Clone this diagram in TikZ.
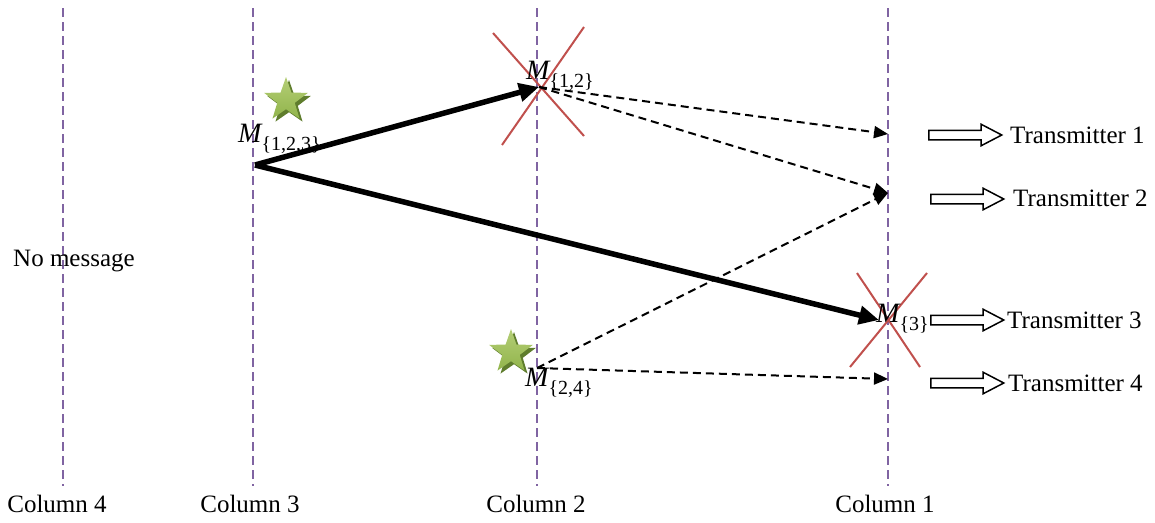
\documentclass[tikz,border=0pt]{standalone}
\usepackage{fontspec}
\setmainfont{Liberation Serif}
\usetikzlibrary{arrows.meta,shapes.geometric,shapes.arrows}
\definecolor{colpurple}{RGB}{128,100,162}
\definecolor{crossred}{RGB}{192,80,77}
\definecolor{stargreen}{RGB}{145,180,75}
\definecolor{starlight}{RGB}{180,206,118}
\definecolor{stardark}{RGB}{95,125,45}
\newcommand{\msg}[1]{{\itshape M}\raisebox{-8pt}{\fontsize{20}{20}\selectfont\{#1\}}}
\begin{document}
\begin{tikzpicture}[x=1pt,y=-1pt,
  col/.style={draw=colpurple, line width=1.6pt, dash pattern=on 9pt off 5pt},
  lbl/.style={font=\fontsize{25}{28}\selectfont, inner sep=0pt},
  ml/.style={font=\fontsize{28}{30}\selectfont, inner sep=0pt},
  thickarrow/.style={line width=5.5pt, -{Triangle[length=20pt,width=18pt]}},
  dasharrow/.style={line width=2pt, dash pattern=on 8pt off 5pt, -{Triangle[length=14pt,width=12pt]}},
  cross/.style={draw=crossred, line width=2pt},
  hollow/.style={single arrow, draw, line width=1.5pt, fill=white, inner xsep=0pt, inner ysep=4pt,
    minimum height=73pt, single arrow head extend=6pt, single arrow tip angle=55, anchor=west},
  starshape/.style={star, star points=5, star point ratio=2.5, minimum size=46pt, inner sep=0pt}
]
\useasboundingbox (0,0) rectangle (1155,522);

% column lines
\coordinate (c4t) at (63,8);   \coordinate (c4b) at (63,486);
\coordinate (c3t) at (253,8);  \coordinate (c3b) at (253,486);
\coordinate (c2t) at (537,8);  \coordinate (c2b) at (537,486);
\coordinate (c1t) at (888,8);  \coordinate (c1b) at (888,486);
\draw[col] (c4t) -- (c4b);
\draw[col] (c3t) -- (c3b);
\draw[col] (c2t) -- (c2b);
\draw[col] (c1t) -- (c1b);

% column labels
\node[lbl, anchor=base] (l4) at (57,512) {Column 4};
\node[lbl, anchor=base] (l3) at (250,512) {Column 3};
\node[lbl, anchor=base] (l2) at (536,512) {Column 2};
\node[lbl, anchor=base] (l1) at (885,512) {Column 1};
\node[lbl, anchor=base west] (nomsg) at (13,266) {No message};

% stars
\node[starshape, fill=stardark] (s1sh) at (289,103) {};
\node[starshape, top color=starlight, bottom color=stargreen, draw=none] (s1) at (286,100) {};
\node[starshape, fill=stardark] (s2sh) at (514,355) {};
\node[starshape, top color=starlight, bottom color=stargreen, draw=none] (s2) at (511,352) {};

% crosses
\coordinate (x1a) at (493,33);  \coordinate (x1b) at (584,136);
\coordinate (x1c) at (584,27);  \coordinate (x1d) at (502,145);
\draw[cross] (x1a) -- (x1b);
\draw[cross] (x1c) -- (x1d);
\coordinate (x2a) at (857,273); \coordinate (x2b) at (920,367);
\coordinate (x2c) at (927,273); \coordinate (x2d) at (850,367);
\draw[cross] (x2a) -- (x2b);
\draw[cross] (x2c) -- (x2d);

% points
\coordinate (A) at (255,165);
\coordinate (B) at (539,87);
\coordinate (C) at (537,368);
\coordinate (D) at (879,320);
\coordinate (T1) at (888,134);
\coordinate (T2) at (888,193);
\coordinate (T4) at (888,379);

% arrows
\draw[thickarrow] (A) -- (B);
\draw[thickarrow] (A) -- (D);
\draw[dasharrow] (B) -- (T1);
\draw[dasharrow] (B) -- (T2);
\draw[dasharrow] (C) -- (T2);
\draw[dasharrow] (C) -- (T4);

% message labels
\node[ml, anchor=base west] (m123) at (238,142) {\msg{1,2,3}};
\node[ml, anchor=base west] (m12) at (526,79) {\msg{1,2}};
\node[ml, anchor=base west] (m24) at (525,386) {\msg{2,4}};
\node[ml, anchor=base west] (m3) at (876,322) {\msg{3}};

% hollow arrows and transmitters
\node[hollow] (h1) at (928,135) {};
\node[hollow] (h2) at (930,199) {};
\node[hollow] (h3) at (930,320) {};
\node[hollow] (h4) at (930,383) {};
\node[lbl, anchor=west] (t1) at (1010,135) {Transmitter 1};
\node[lbl, anchor=west] (t2) at (1013,198) {Transmitter 2};
\node[lbl, anchor=west] (t3) at (1007,320) {Transmitter 3};
\node[lbl, anchor=west] (t4) at (1008,383) {Transmitter 4};
\end{tikzpicture}
\end{document}
